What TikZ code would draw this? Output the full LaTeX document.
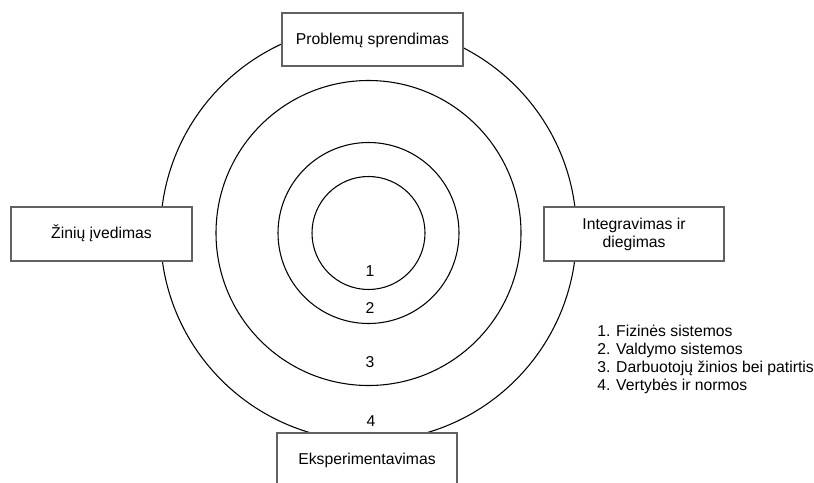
\documentclass[tikz,border=0pt]{standalone}
\usepackage{fontspec}
\setmainfont{Liberation Sans}
\begin{document}
\begin{tikzpicture}[x=0.75pt,y=-0.75pt,
  ring/.style={draw=black,line width=0.8pt},
  box/.style={draw=black!62,line width=1pt,fill=white,inner sep=0pt,
    font=\fontsize{11.8pt}{13.5pt}\selectfont,align=center},
  onebox/.style={box,text height=0.716em,text depth=0pt},
  num/.style={inner sep=0pt,font=\fontsize{11.8pt}{13.5pt}\selectfont},
  legend/.style={inner sep=0pt,anchor=base west,font=\fontsize{11.8pt}{13.5pt}\selectfont}]
\clip (0,0) rectangle (814,482);
\fill[white] (0,0) rectangle (814,482);

% concentric rings
\coordinate (c) at (368.5,233);
\draw[ring] (c) circle[radius=208];
\draw[ring] (c) circle[radius=152.5];
\draw[ring] (c) circle[radius=90.5];
\draw[ring] (c) circle[radius=56.5];

% ring numbers
\node[num] (n1) at (370,271) {1};
\node[num] (n2) at (370,308) {2};
\node[num] (n3) at (370,362) {3};
\node[num] (n4) at (371,421) {4};

% activity boxes on the outer ring
\node[onebox,minimum width=135.75pt,minimum height=39.75pt] (top) at (372.5,39.5) {Problemų sprendimas};
\node[onebox,minimum width=135.75pt,minimum height=40.5pt] (left) at (101.5,234) {Žinių įvedimas};
\node[box,minimum width=135pt,minimum height=40.5pt] (right) at (634,234) {Integravimas ir\\diegimas};
\node[onebox,minimum width=135pt,minimum height=40.5pt] (bottom) at (367,460) {Eksperimentavimas};

% legend
\node[legend] (l1) at (597,336) {1. Fizinės sistemos};
\node[legend] (l2) at (597,354.3) {2. Valdymo sistemos};
\node[legend] (l3) at (597,372.7) {3. Darbuotojų žinios bei patirtis};
\node[legend] (l4) at (597,390.8) {4. Vertybės ir normos};
\end{tikzpicture}
\end{document}
